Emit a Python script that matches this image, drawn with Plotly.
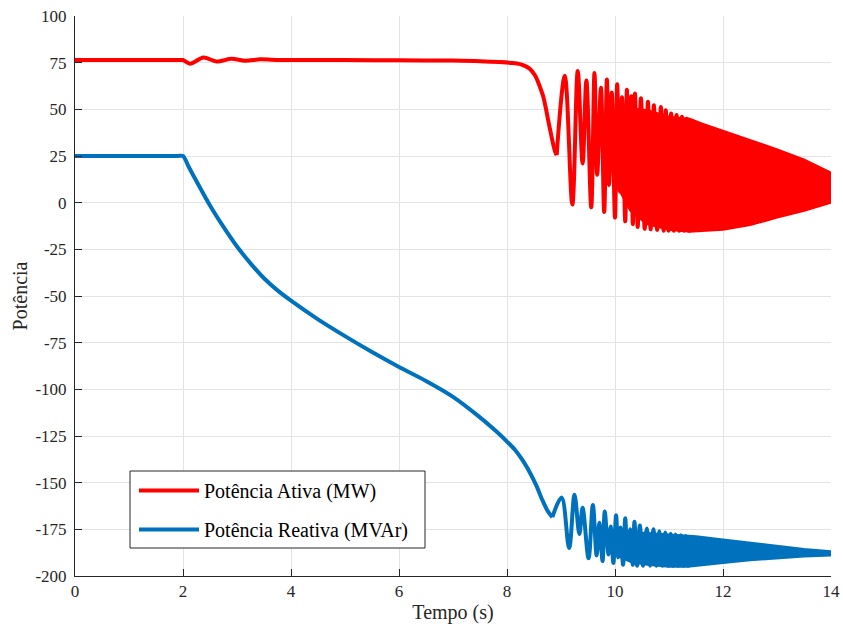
import plotly.graph_objects as go

# ---------------- data ----------------
# Active power (MW): smooth part before the oscillations (time s, value)
p_t = [0.0, 0.5, 1.0, 1.5, 1.9, 2.0, 2.13, 2.38, 2.62, 2.9, 3.15, 3.43, 3.8, 4.5,
       5.0, 6.0, 7.0, 7.5, 7.87, 8.1, 8.24, 8.35, 8.43, 8.5, 8.55, 8.61, 8.67, 8.72, 8.76, 8.81,
       8.85, 8.89, 8.92]
p_v = [76.4, 76.4, 76.4, 76.4, 76.4, 76.4, 74.4, 77.8, 75.6, 77.1, 76.0, 76.8, 76.4, 76.4,
       76.4, 76.3, 76.1, 75.8, 75.3, 74.8, 74.2, 73.0, 71.5, 69.0, 66.5, 62.0, 57.0, 50.5, 44.5, 37.5,
       32.0, 27.5, 25.5]

# Active power: oscillation extrema (time s, value)
po_t = [8.92, 9.07, 9.21, 9.31, 9.40, 9.47, 9.56, 9.62, 9.67, 9.74, 9.80, 9.85, 9.89, 9.94,
        10.0, 10.04, 10.09, 10.13, 10.19, 10.22, 10.26, 10.30, 10.33, 10.37, 10.42, 10.48, 10.55,
        10.61, 10.66, 10.72, 10.78, 10.85, 10.90, 10.94, 10.99, 11.04, 11.09, 11.14, 11.19,
        11.24, 11.28, 11.33, 11.38, 11.43]
po_v = [25.5, 68.0, -1.0, 70.5, 21.0, 65.5, -2.5, 69.5, 15.0, 61.5, -5.0, 66.0, 9.5, 59.0,
        -8.0, 63.5, 6.0, 56.5, -10.0, 60.5, 2.5, 57.0, -11.5, 58.5, -13.0, 56.0, -14.0,
        54.0, -14.3, 52.2, -14.6, 51.3, -15.0, 49.5, -15.0, 47.8, -15.0, 47.0, -15.0,
        46.0, -15.0, 45.0, -15.0, 44.2]

# Active power: dense oscillation band (inner envelope, then full envelope)
pb_t = [9.85, 10.0, 10.3, 10.6, 11.0, 11.38, 11.6, 12.0, 12.5, 13.0, 13.5, 14.0]
pb_hi = [32.0, 47.0, 50.0, 49.0, 45.5, 44.5, 42.0, 38.0, 33.5, 28.0, 22.5, 15.5]
pb_lo = [32.0, 12.0, -4.0, -11.0, -14.0, -15.0, -14.8, -14.0, -11.5, -7.5, -3.8, 0.5]

# Reactive power (MVAr): smooth part
q_t = [0.0, 0.5, 1.0, 1.5, 1.9, 2.0, 2.1, 2.25, 2.5, 2.75, 3.0, 3.25, 3.5, 3.75, 4.0, 4.5, 5.0, 5.5, 6.0, 6.5,
       7.0, 7.5, 7.8, 8.0, 8.15, 8.3, 8.45, 8.55, 8.65, 8.75, 8.84]
q_v = [25.0, 25.0, 25.0, 25.0, 25.0, 25.0, 19.5, 11.5, -1.5, -13.0, -23.5, -32.5, -40.5, -47.0, -52.5, -62.5,
       -71.5, -80.0, -88.0, -95.5,
       -104.0, -115.0, -122.5, -128.0, -132.5, -138.5, -146.0, -152.0, -159.0, -165.0, -168.5]

# Reactive power: oscillation extrema
qo_t = [8.84, 9.01, 9.15, 9.25, 9.34, 9.40, 9.51, 9.59, 9.66, 9.71, 9.77, 9.81, 9.88, 9.92,
        9.97, 10.02, 10.06, 10.10, 10.15, 10.19, 10.23, 10.28, 10.33, 10.36, 10.41, 10.46, 10.52,
        10.59, 10.65, 10.71, 10.77, 10.82, 10.875, 10.93, 10.98, 11.03, 11.075, 11.12, 11.17,
        11.22, 11.265, 11.31, 11.35, 11.39]
qo_v = [-168.5, -158.0, -185.0, -156.5, -177.5, -163.5, -190.5, -162.0, -189.0, -171.5, -192.0, -165.5, -188.5, -173.5,
        -193.0, -167.5, -190.0, -174.0, -194.0, -169.0, -191.0, -175.0, -194.0, -171.0, -194.5, -173.0, -194.5,
        -174.5, -194.5, -175.0, -194.5, -176.0, -194.5, -176.7, -194.5, -177.3, -194.5, -177.8, -194.5,
        -178.2, -194.5, -178.6, -194.5, -179.0]

# Reactive power: dense oscillation band
qb_t = [9.8, 10.0, 10.3, 10.6, 11.0, 11.35, 11.5, 12.0, 12.5, 13.0, 13.5, 14.0]
qb_hi = [-181.0, -177.0, -177.0, -177.5, -178.5, -179.0, -179.3, -181.0, -182.8, -184.6, -186.0, -187.3]
qb_lo = [-181.0, -188.0, -192.0, -193.5, -194.5, -194.5, -194.0, -192.5, -191.0, -189.8, -189.0, -188.5]

x_ticks = [0, 2, 4, 6, 8, 10, 12, 14]
y_ticks = [100, 75, 50, 25, 0, -25, -50, -75, -100, -125, -150, -175, -200]

RED = "#ff0000"
BLUE = "#0072bd"
FONT = "Liberation Serif"
AX = "#262626"
LW = 4

# plot-area geometry (pixels) used to place the legend frame
PL, PR, PT, PB = 75, 831, 16, 576
PW, PH = PR - PL, PB - PT

fig = go.Figure()

# dense bands (drawn from envelope arrays)
fig.add_trace(go.Scatter(
    x=pb_t + pb_t[::-1], y=pb_hi + pb_lo[::-1], mode="lines", fill="toself",
    fillcolor=RED, line=dict(color=RED, width=LW), showlegend=False, hoverinfo="skip"))
fig.add_trace(go.Scatter(
    x=qb_t + qb_t[::-1], y=qb_hi + qb_lo[::-1], mode="lines", fill="toself",
    fillcolor=BLUE, line=dict(color=BLUE, width=LW), showlegend=False, hoverinfo="skip"))

# oscillation parts (smooth through the extrema)
fig.add_trace(go.Scatter(
    x=po_t, y=po_v, mode="lines", line=dict(color=RED, width=LW, shape="spline", smoothing=1.0),
    showlegend=False, hoverinfo="skip"))
fig.add_trace(go.Scatter(
    x=qo_t, y=qo_v, mode="lines", line=dict(color=BLUE, width=LW, shape="spline", smoothing=1.0),
    showlegend=False, hoverinfo="skip"))

# smooth parts (legend entries)
fig.add_trace(go.Scatter(
    x=p_t, y=p_v, mode="lines", name="Potência Ativa (MW)",
    line=dict(color=RED, width=LW, shape="spline", smoothing=0.8), legendgroup="a"))
fig.add_trace(go.Scatter(
    x=q_t, y=q_v, mode="lines", name="Potência Reativa (MVAr)",
    line=dict(color=BLUE, width=LW, shape="spline", smoothing=0.8), legendgroup="b"))

# legend frame (MATLAB-style box, wider than plotly's own legend box)
fig.add_shape(
    type="rect", xref="paper", yref="paper", layer="above",
    x0=(130 - PL) / PW, x1=(425 - PL) / PW, y0=(PB - 548) / PH, y1=(PB - 471) / PH,
    fillcolor="white", line=dict(color=AX, width=1))

fig.update_layout(
    width=843, height=628,
    margin=dict(l=PL, r=843 - PR, t=PT, b=628 - PB),
    paper_bgcolor="white", plot_bgcolor="white",
    font=dict(family=FONT, size=17, color=AX),
    showlegend=True,
    legend=dict(
        x=(134 - PL) / PW, y=(PB - 471) / PH, xanchor="left", yanchor="top",
        bgcolor="rgba(0,0,0,0)", borderwidth=0,
        font=dict(family=FONT, size=20, color="black"),
        itemwidth=60, tracegroupgap=10,
    ),
    xaxis=dict(
        range=[0, 14], tickvals=x_ticks, ticktext=[str(v) for v in x_ticks],
        showgrid=True, gridcolor="#e3e3e3", gridwidth=1,
        showline=True, linecolor=AX, linewidth=1,
        ticks="inside", ticklen=7, tickcolor=AX,
        zeroline=False, mirror=False, automargin=False,
        title=dict(text="Tempo (s)", font=dict(family=FONT, size=20, color=AX), standoff=4),
        tickfont=dict(family=FONT, size=17, color=AX),
    ),
    yaxis=dict(
        range=[-200, 100], tickvals=y_ticks, ticktext=[str(v) for v in y_ticks],
        showgrid=True, gridcolor="#e3e3e3", gridwidth=1,
        showline=True, linecolor=AX, linewidth=1,
        ticks="inside", ticklen=7, tickcolor=AX,
        zeroline=False, mirror=False, automargin=False,
        ticklabelstandoff=4,
        title=dict(text="Potência", font=dict(family=FONT, size=20, color=AX), standoff=2),
        tickfont=dict(family=FONT, size=17, color=AX),
    ),
)

fig.write_html("out.html")
